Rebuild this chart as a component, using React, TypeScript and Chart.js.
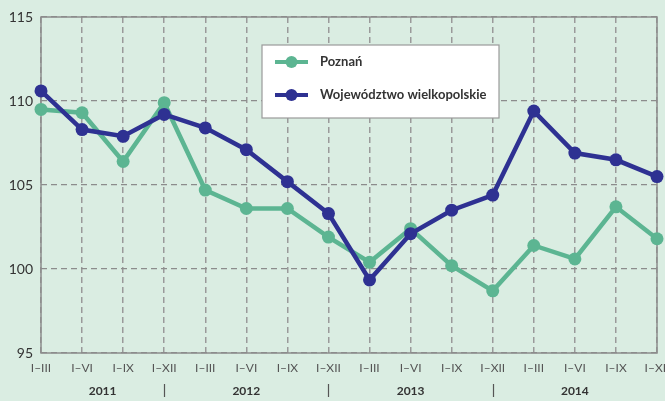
import React, { useEffect, useRef } from "react";
import { Chart, registerables } from "chart.js";

Chart.register(...registerables);

const categories = [
  "I–III", "I–VI", "I–IX", "I–XII",
  "I–III", "I–VI", "I–IX", "I–XII",
  "I–III", "I–VI", "I–IX", "I–XII",
  "I–III", "I–VI", "I–IX", "I–XII",
];
const years = ["2011", "2012", "2013", "2014"];
const poznan = [109.5, 109.3, 106.4, 109.9, 104.7, 103.6, 103.6, 101.9, 100.4, 102.4, 100.2, 98.7, 101.4, 100.6, 103.7, 101.8];
const wielkopolska = [110.6, 108.3, 107.9, 109.2, 108.4, 107.1, 105.2, 103.3, 99.35, 102.1, 103.5, 104.4, 109.4, 106.9, 106.5, 105.5];
const seriesNames = ["Poznań", "Województwo wielkopolskie"];
const yTicks = [95, 100, 105, 110, 115];

const GREEN = "#5cb592";
const BLUE = "#2e3192";
const BG = "#daede2";
const FONT = "Lato, 'Open Sans', sans-serif";

export default function App() {
  const ref = useRef<HTMLCanvasElement | null>(null);
  useEffect(() => {
    if (!ref.current) return;
    const bgPlugin = {
      id: "bg",
      beforeDraw(chart: any) {
        const ctx = chart.ctx;
        ctx.save();
        ctx.fillStyle = BG;
        ctx.fillRect(0, 0, chart.width, chart.height);
        ctx.restore();
      },
      beforeDatasetsDraw(chart: any) {
        const { ctx, chartArea: a } = chart;
        ctx.save();
        ctx.strokeStyle = "#8c8c8c";
        ctx.lineWidth = 1.5;
        ctx.setLineDash([]);
        ctx.strokeRect(a.left, a.top, a.right - a.left, a.bottom - a.top);
        ctx.restore();
      },
      afterDraw(chart: any) {
        const { ctx } = chart;
        const x = chart.scales.x;
        ctx.save();
        // years row
        ctx.font = `bold 12px ${FONT}`;
        ctx.fillStyle = "#333";
        ctx.textAlign = "center";
        ctx.textBaseline = "middle";
        const yearY = 391;
        for (let i = 0; i < years.length; i++) {
          const start = i === 0 ? x.getPixelForValue(0) : x.getPixelForValue(i * 4 - 1);
          const end = x.getPixelForValue(i * 4 + 3);
          ctx.fillText(years[i], (start + end) / 2, yearY);
          if (i < years.length - 1) {
            ctx.strokeStyle = "#555";
            ctx.lineWidth = 1.2;
            ctx.beginPath();
            ctx.moveTo(Math.round(end) + 0.5, 384);
            ctx.lineTo(Math.round(end) + 0.5, 397);
            ctx.stroke();
          }
        }
        // legend box
        const lx = 262, ly = 45, lw = 237, lh = 73;
        ctx.fillStyle = "#ffffff";
        ctx.fillRect(lx, ly, lw, lh);
        ctx.strokeStyle = "#9a9a9a";
        ctx.lineWidth = 1.2;
        ctx.strokeRect(lx, ly, lw, lh);
        const items = [
          { name: seriesNames[0], color: GREEN, y: 62 },
          { name: seriesNames[1], color: BLUE, y: 95 },
        ];
        ctx.textAlign = "left";
        ctx.font = `bold 13px ${FONT}`;
        for (const it of items) {
          ctx.strokeStyle = it.color;
          ctx.lineWidth = 4;
          ctx.beginPath();
          ctx.moveTo(275, it.y);
          ctx.lineTo(308, it.y);
          ctx.stroke();
          ctx.beginPath();
          ctx.fillStyle = it.color;
          ctx.arc(291.5, it.y, 6, 0, Math.PI * 2);
          ctx.fill();
          ctx.fillStyle = "#333";
          ctx.fillText(it.name, 320, it.y);
        }
        ctx.restore();
      },
    };

    const chart = new Chart(ref.current, {
      type: "line",
      data: {
        labels: categories,
        datasets: [
          {
            label: seriesNames[0],
            data: poznan,
            borderColor: GREEN,
            backgroundColor: GREEN,
            borderWidth: 4.5,
            pointRadius: 6.5,
            pointHoverRadius: 6.5,
            pointBorderWidth: 0,
            clip: false as any,
            order: 2,
          },
          {
            label: seriesNames[1],
            data: wielkopolska,
            borderColor: BLUE,
            backgroundColor: BLUE,
            borderWidth: 4.5,
            pointRadius: 6.5,
            pointHoverRadius: 6.5,
            pointBorderWidth: 0,
            clip: false as any,
            order: 1,
          },
        ],
      },
      options: {
        animation: false,
        responsive: false,
        maintainAspectRatio: false,
        layout: { padding: { top: 17, right: 8, left: 0, bottom: 0 } },
        plugins: { legend: { display: false }, tooltip: { enabled: false } },
        scales: {
          x: {
            type: "category",
            offset: false,
            afterFit(scale: any) {
              scale.height = 48;
              scale.paddingLeft = 0;
              scale.paddingRight = 0;
            },
            grid: {
              color: "#9a9a9a",
              lineWidth: 1.5,
              drawTicks: false,
            },
            border: { display: false, dash: [6, 4] },
            ticks: {
              autoSkip: false,
              maxRotation: 0,
              minRotation: 0,
              padding: 8,
              color: "#555",
              font: { family: FONT, size: 12 },
            },
          },
          y: {
            min: 95,
            max: 115,
            afterFit(scale: any) {
              scale.width = 41;
              scale.paddingTop = 0;
              scale.paddingBottom = 0;
            },
            afterBuildTicks(scale: any) { scale.ticks = yTicks.map((v) => ({ value: v })); },
            grid: {
              color: "#8c8c8c",
              lineWidth: 1.2,
              drawTicks: false,
            },
            border: { display: false, dash: [6, 4] },
            ticks: {
              padding: 8,
              color: "#333",
              font: { family: FONT, size: 14 },
            },
          },
        },
      },
      plugins: [bgPlugin],
    });
    return () => chart.destroy();
  }, []);
  return (
    <div style={{ position: "fixed", left: 0, top: 0, width: 665, height: 401 }}>
      <canvas ref={ref} width={665} height={401} style={{ width: 665, height: 401 }} />
    </div>
  );
}
